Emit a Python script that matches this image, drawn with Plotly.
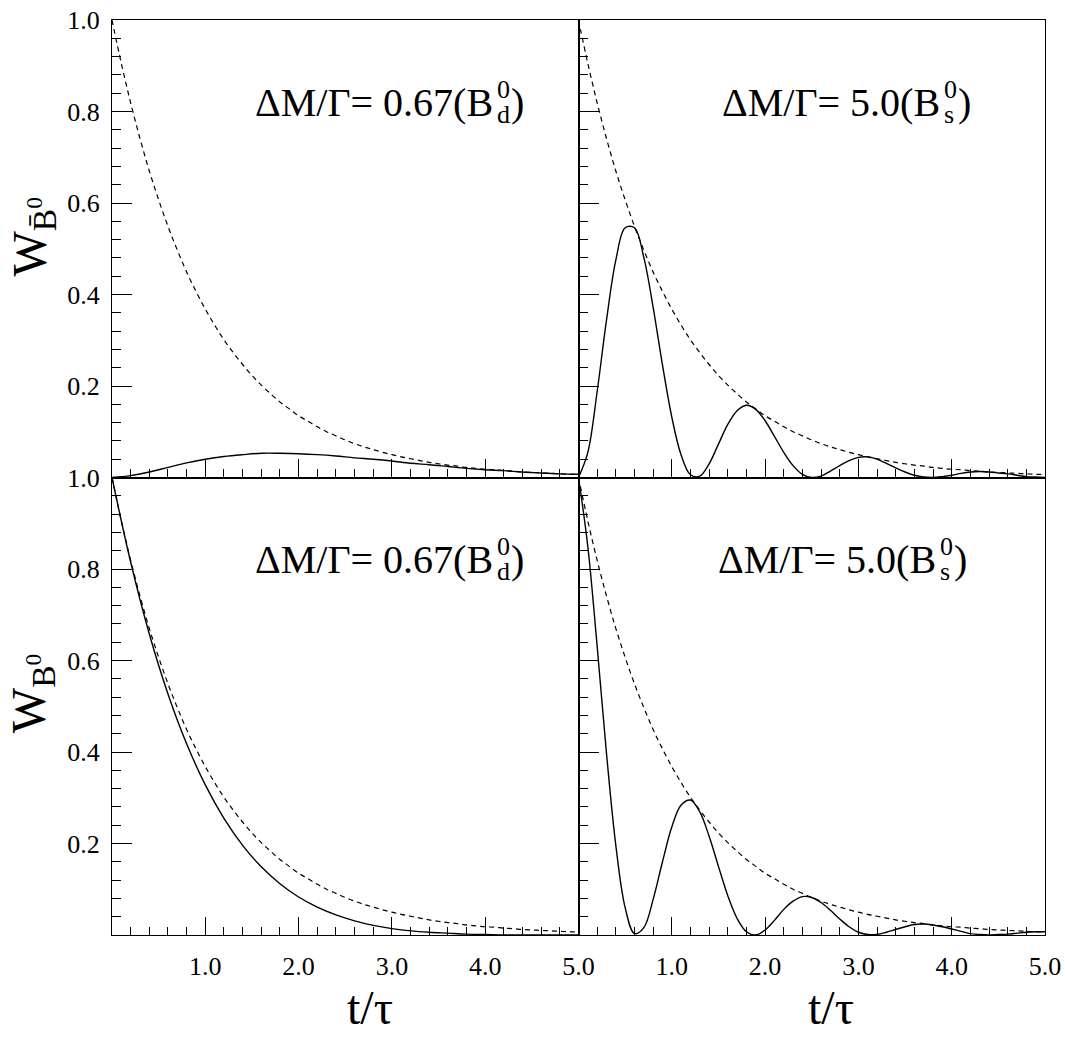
import plotly.graph_objects as go

# ---------------- data ----------------
t_coarse = [0.0, 0.2, 0.4, 0.6, 0.8, 1.0, 1.2, 1.4, 1.6, 1.8, 2.0, 2.2, 2.4, 2.6,
            2.8, 3.0, 3.2, 3.4, 3.6, 3.8, 4.0, 4.2, 4.4, 4.6, 4.8, 5.0]

t_fine = [0.0, 0.1, 0.2, 0.3, 0.4, 0.5, 0.6, 0.7, 0.8, 0.9,
          1.0, 1.1, 1.2, 1.3, 1.4, 1.5, 1.6, 1.7, 1.8, 1.9,
          2.0, 2.1, 2.2, 2.3, 2.4, 2.5, 2.6, 2.7, 2.8, 2.9,
          3.0, 3.1, 3.2, 3.3, 3.4, 3.5, 3.6, 3.7, 3.8, 3.9,
          4.0, 4.1, 4.2, 4.3, 4.4, 4.5, 4.6, 4.7, 4.8, 4.9, 5.0]

# dashed envelope (all four panels)
envelope = [1.000, 0.905, 0.819, 0.741, 0.670, 0.607, 0.549, 0.497, 0.449, 0.407,
            0.368, 0.333, 0.301, 0.273, 0.247, 0.223, 0.202, 0.183, 0.165, 0.150,
            0.135, 0.123, 0.111, 0.100, 0.091, 0.082, 0.074, 0.067, 0.061, 0.055,
            0.050, 0.045, 0.041, 0.037, 0.033, 0.030, 0.027, 0.025, 0.022, 0.020,
            0.018, 0.017, 0.015, 0.014, 0.012, 0.011, 0.010, 0.009, 0.008, 0.007, 0.007]

# top-left: mixed B_d (solid)
bd_mixed = [0.000, 0.004, 0.012, 0.022, 0.032, 0.040, 0.046, 0.050, 0.053, 0.053,
            0.052, 0.050, 0.047, 0.043, 0.040, 0.036, 0.031, 0.028, 0.024, 0.020,
            0.017, 0.015, 0.012, 0.010, 0.008, 0.007]

# bottom-left: unmixed B_d (solid)
bd_unmixed = [1.000, 0.815, 0.658, 0.527, 0.418, 0.328, 0.255, 0.196, 0.149, 0.112,
              0.083, 0.061, 0.044, 0.031, 0.021, 0.014, 0.009, 0.006, 0.004, 0.002,
              0.001, 0.000, 0.000, 0.000, 0.000, 0.000]

# top-right: mixed B_s (solid)
bs_mixed = [0.000, 0.055, 0.188, 0.344, 0.475, 0.546, 0.546, 0.481, 0.372, 0.246,
            0.132, 0.049, 0.006, 0.003, 0.030, 0.073, 0.116, 0.146, 0.158, 0.149,
            0.124, 0.090, 0.055, 0.026, 0.007, 0.000, 0.003, 0.014, 0.026, 0.037,
            0.044, 0.045, 0.040, 0.031, 0.021, 0.012, 0.005, 0.001, 0.000, 0.002,
            0.005, 0.009, 0.012, 0.013, 0.012, 0.010, 0.008, 0.005, 0.002, 0.001, 0.000]

# bottom-right: unmixed B_s (solid)
bs_unmixed = [1.000, 0.849, 0.631, 0.397, 0.196, 0.060, 0.003, 0.016, 0.078, 0.160,
              0.236, 0.284, 0.295, 0.269, 0.216, 0.150, 0.086, 0.036, 0.007, 0.000,
              0.011, 0.032, 0.056, 0.074, 0.084, 0.082, 0.071, 0.054, 0.035, 0.018,
              0.006, 0.001, 0.001, 0.006, 0.012, 0.018, 0.023, 0.024, 0.022, 0.018,
              0.013, 0.008, 0.003, 0.001, 0.000, 0.001, 0.002, 0.004, 0.006, 0.007, 0.007]

panel_labels = ["ΔM/Γ= 0.67(B", "ΔM/Γ= 5.0(B"]
panel_sub = ["d", "s"]
x_tick_vals = [1, 2, 3, 4, 5]
x_tick_text = ["1.0", "2.0", "3.0", "4.0", "5.0"]
y_tick_vals = [0.2, 0.4, 0.6, 0.8, 1.0]
y_tick_text = ["0.2", "0.4", "0.6", "0.8", "1.0"]

# ---------------- figure ----------------
FONT = "Liberation Serif"
fig = go.Figure()

panels = [
    ("x3", "y3", t_coarse, bd_mixed),
    ("x4", "y4", t_fine, bs_mixed),
    ("x", "y", t_coarse, bd_unmixed),
    ("x2", "y2", t_fine, bs_unmixed),
]
for xa, ya, tt, vals in panels:
    fig.add_trace(go.Scatter(x=t_fine, y=envelope, mode="lines", xaxis=xa, yaxis=ya,
                             line=dict(color="black", width=1.2, dash="5px,4px", shape="spline"),
                             showlegend=False, hoverinfo="skip"))
    fig.add_trace(go.Scatter(x=tt, y=vals, mode="lines", xaxis=xa, yaxis=ya,
                             line=dict(color="black", width=1.4, shape="spline"),
                             showlegend=False))

tickfont = dict(family=FONT, size=26, color="black")
common = dict(showline=True, linecolor="black", linewidth=1.3, mirror=True,
              ticks="inside", tickcolor="black", tickwidth=1.3,
              showgrid=False, zeroline=False, tickfont=tickfont, automargin=False)

def xax(domain, labels, anchor):
    return dict(common, domain=domain, range=[0, 5], tickmode="array",
                tickvals=x_tick_vals, ticktext=x_tick_text, ticklen=18,
                showticklabels=labels, anchor=anchor, ticklabelstandoff=8,
                minor=dict(tickmode="linear", dtick=0.2, tick0=0, ticklen=8, ticks="inside",
                           tickcolor="black", tickwidth=1, showgrid=False))

def yax(domain, labels, anchor):
    return dict(common, domain=domain, range=[0, 1], tickmode="array",
                tickvals=y_tick_vals, ticktext=y_tick_text, ticklen=20,
                showticklabels=labels, anchor=anchor, ticklabelstandoff=6,
                minor=dict(tickmode="linear", dtick=0.04, tick0=0, ticklen=9, ticks="inside",
                           tickcolor="black", tickwidth=1, showgrid=False))

fig.update_layout(
    width=1065, height=1040,
    margin=dict(l=112, r=20, t=20, b=105),
    paper_bgcolor="white", plot_bgcolor="white",
    font=dict(family=FONT, color="black"),
    xaxis=xax([0, 0.5], True, "y"),
    yaxis=yax([0, 0.5], True, "x"),
    xaxis2=xax([0.5, 1], True, "y2"),
    yaxis2=yax([0, 0.5], False, "x2"),
    xaxis3=xax([0, 0.5], False, "y3"),
    yaxis3=yax([0.5, 1], True, "x3"),
    xaxis4=xax([0.5, 1], False, "y4"),
    yaxis4=yax([0.5, 1], False, "x4"),
)

ann = []
def panel_text(xr, yr, xend, yc, main, sub):
    big = dict(family=FONT, size=40, color="black")
    small = dict(family=FONT, size=26, color="black")
    ann.append(dict(xref=xr, yref=yr, x=xend, y=yc, text=main, showarrow=False,
                    xanchor="right", yanchor="middle", font=big))
    ann.append(dict(xref=xr, yref=yr, x=xend, y=yc, text="0", showarrow=False,
                    xanchor="left", yanchor="middle", yshift=13, font=small))
    ann.append(dict(xref=xr, yref=yr, x=xend, y=yc, text=sub, showarrow=False,
                    xanchor="left", yanchor="middle", yshift=-12, font=small))
    ann.append(dict(xref=xr, yref=yr, x=xend, y=yc, text=")", showarrow=False,
                    xanchor="left", yanchor="middle", xshift=14, font=big))

panel_text("x3", "y3", 4.10, 0.82, panel_labels[0], panel_sub[0])
panel_text("x4", "y4", 3.90, 0.82, panel_labels[1], panel_sub[1])
panel_text("x", "y", 4.10, 0.82, panel_labels[0], panel_sub[0])
panel_text("x2", "y2", 3.85, 0.82, panel_labels[1], panel_sub[1])

# y titles
ann.append(dict(xref="paper", yref="paper", x=-0.085, y=0.763, textangle=-90,
                text="W<sub>B̄<sup>0</sup></sub>", showarrow=False,
                xanchor="center", yanchor="middle",
                font=dict(family=FONT, size=48, color="black")))
ann.append(dict(xref="paper", yref="paper", x=-0.085, y=0.264, textangle=-90,
                text="W<sub>B<sup>0</sup></sub>", showarrow=False,
                xanchor="center", yanchor="middle",
                font=dict(family=FONT, size=48, color="black")))
# x titles
for xp in (0.276, 0.771):
    ann.append(dict(xref="paper", yref="paper", x=xp, y=-0.079, text="t/τ",
                    showarrow=False, xanchor="center", yanchor="middle",
                    font=dict(family=FONT, size=48, color="black")))

fig.update_layout(annotations=ann)
fig.write_html("out.html")
